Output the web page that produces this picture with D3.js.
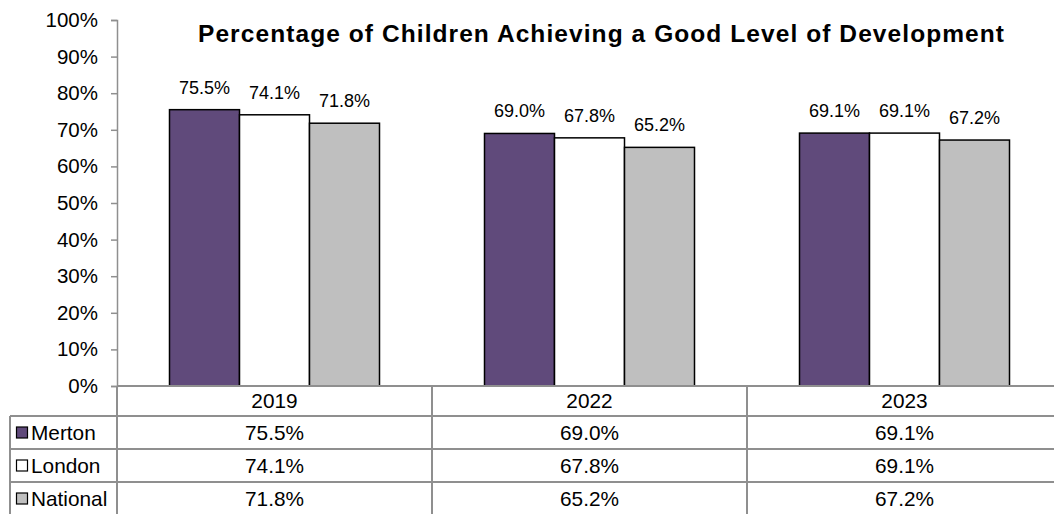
<!DOCTYPE html>
<html>
<head>
<meta charset="utf-8">
<script src="https://cdn.jsdelivr.net/npm/d3@7"></script>
<style>
  body { margin: 0; background: #fff; }
  svg { display: block; font-family: "Liberation Sans", Arial, sans-serif; }
</style>
</head>
<body>
<div id="chart"></div>
<script>
var years = ["2019", "2022", "2023"];
var seriesNames = ["Merton", "London", "National"];
var merton = [75.5, 69.0, 69.1];
var london = [74.1, 67.8, 69.1];
var national = [71.8, 65.2, 67.2];
var yTicks = [0, 10, 20, 30, 40, 50, 60, 70, 80, 90, 100];

var colors = {Merton: "#604a7b", London: "#ffffff", National: "#bfbfbf"};
var seriesValues = {Merton: merton, London: london, National: national};

var width = 1054, height = 514;
var plotLeft = 117, plotRight = 1062, plotTop = 20, plotBottom = 386;
var rowH = [30, 33, 33, 33];
var tableLeft = 10;
var gridColor = "#8f8f8f";

var svg = d3.select("#chart").append("svg")
    .attr("width", width)
    .attr("height", height);

var x0 = d3.scaleBand()
    .domain(years)
    .range([plotLeft, plotRight]);

var x1 = d3.scaleBand()
    .domain(seriesNames)
    .range([0, x0.bandwidth()])
    .paddingOuter(0.75);

var y = d3.scaleLinear()
    .domain([0, 100])
    .range([plotBottom, plotTop]);

// title
svg.append("text")
    .attr("x", 601)
    .attr("y", 42)
    .attr("text-anchor", "middle")
    .attr("textLength", 806)
    .attr("lengthAdjust", "spacing")
    .style("font-size", "24.5px")
    .style("font-weight", "bold")
    .text("Percentage of Children Achieving a Good Level of Development");

// y axis
var yAxis = svg.append("g")
    .attr("transform", "translate(" + plotLeft + ",0)")
    .call(d3.axisLeft(y)
        .tickValues(yTicks)
        .tickFormat(function(d) { return d + "%"; })
        .tickSizeOuter(0)
        .tickSize(6)
        .tickPadding(13));
yAxis.select(".domain").attr("stroke", gridColor).attr("stroke-width", 1.5);
yAxis.selectAll(".tick line").attr("stroke", gridColor).attr("stroke-width", 1.5);
yAxis.selectAll("text")
    .style("font-size", "20.5px")
    .attr("fill", "#000")
    .attr("font-family", "Liberation Sans, Arial, sans-serif");

// bars
var groups = svg.selectAll("g.year")
    .data(years)
    .enter()
    .append("g")
    .attr("class", "year")
    .attr("transform", function(d) { return "translate(" + x0(d) + ",0)"; });

groups.selectAll("rect")
    .data(function(d, i) {
        return seriesNames.map(function(s) { return {s: s, v: seriesValues[s][i]}; });
    })
    .enter()
    .append("rect")
    .attr("x", function(d) { return x1(d.s); })
    .attr("y", function(d) { return y(d.v); })
    .attr("width", x1.bandwidth())
    .attr("height", function(d) { return y(0) - y(d.v); })
    .attr("fill", function(d) { return colors[d.s]; })
    .attr("stroke", "#000")
    .attr("stroke-width", 1.5);

groups.selectAll("text.lbl")
    .data(function(d, i) {
        return seriesNames.map(function(s) { return {s: s, v: seriesValues[s][i]}; });
    })
    .enter()
    .append("text")
    .attr("class", "lbl")
    .attr("x", function(d) { return x1(d.s) + x1.bandwidth() / 2; })
    .attr("y", function(d) { return y(d.v) - 16; })
    .attr("text-anchor", "middle")
    .style("font-size", "18px")
    .text(function(d) { return d.v.toFixed(1) + "%"; });

// data table
var rowTops = [plotBottom];
for (var r = 0; r < rowH.length; r++) rowTops.push(rowTops[r] + rowH[r]);

var table = svg.append("g");

// horizontal lines
table.append("line")
    .attr("x1", plotLeft).attr("x2", plotRight)
    .attr("y1", rowTops[0]).attr("y2", rowTops[0])
    .attr("stroke", gridColor).attr("stroke-width", 2);
for (var k = 1; k < rowTops.length - 1; k++) {
    table.append("line")
        .attr("x1", tableLeft).attr("x2", plotRight)
        .attr("y1", rowTops[k]).attr("y2", rowTops[k])
        .attr("stroke", gridColor).attr("stroke-width", 2);
}
// vertical lines
table.append("line")
    .attr("x1", tableLeft).attr("x2", tableLeft)
    .attr("y1", rowTops[1]).attr("y2", height)
    .attr("stroke", gridColor).attr("stroke-width", 2);
years.forEach(function(yr) {
    table.append("line")
        .attr("x1", x0(yr)).attr("x2", x0(yr))
        .attr("y1", rowTops[0]).attr("y2", height)
        .attr("stroke", gridColor).attr("stroke-width", 2);
});

// header row
table.selectAll("text.yr")
    .data(years)
    .enter()
    .append("text")
    .attr("class", "yr")
    .attr("x", function(d) { return x0(d) + x0.bandwidth() / 2; })
    .attr("y", (rowTops[0] + rowTops[1]) / 2)
    .attr("dy", "0.35em")
    .attr("text-anchor", "middle")
    .style("font-size", "20.8px")
    .text(function(d) { return d; });

// series rows
seriesNames.forEach(function(s, si) {
    var cy = (rowTops[si + 1] + rowTops[si + 2]) / 2;
    table.append("rect")
        .attr("x", 16.5).attr("y", cy - 5.5)
        .attr("width", 11).attr("height", 11)
        .attr("fill", colors[s])
        .attr("stroke", "#000").attr("stroke-width", 1.2);
    table.append("text")
        .attr("x", 31)
        .attr("y", cy)
        .attr("dy", "0.35em")
        .style("font-size", "20.8px")
        .text(s);
    table.selectAll("text.v" + si)
        .data(seriesValues[s])
        .enter()
        .append("text")
        .attr("x", function(d, i) { return x0(years[i]) + x0.bandwidth() / 2; })
        .attr("y", cy)
        .attr("dy", "0.35em")
        .attr("text-anchor", "middle")
        .style("font-size", "20.8px")
        .text(function(d) { return d.toFixed(1) + "%"; });
});
</script>
</body>
</html>
